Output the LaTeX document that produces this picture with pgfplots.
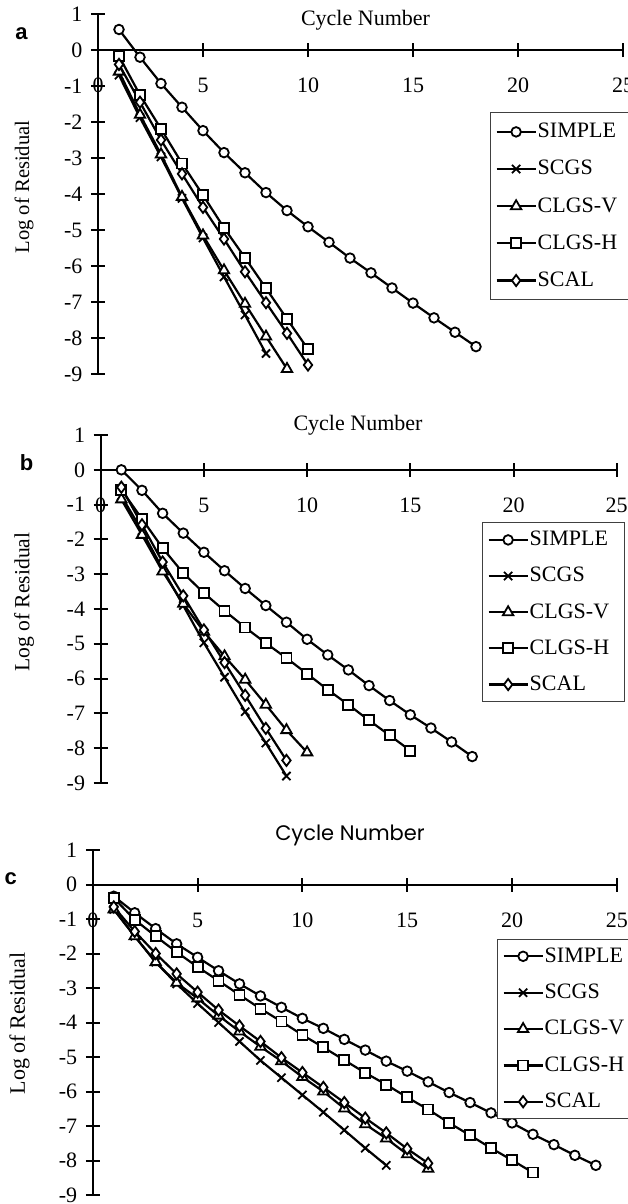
\documentclass[border=0pt]{standalone}
\usepackage{fontspec}
\setmainfont{Liberation Serif}
\newfontfamily\lsans{Liberation Sans}
\newfontfamily\gothic{Poppins}
\usepackage{pgfplots}
\pgfplotsset{compat=1.18}
\pgfplotsset{
  panel/.style={
    anchor=south west, scale only axis,
    xmin=0, xmax=25, ymin=-9, ymax=1,
    axis x line=middle, axis y line=left,
    axis line style={-, line width=1pt},
    every tick/.style={black, line width=1pt},
    tick align=center, major tick length=7pt,
    hide obscured x ticks=false, hide obscured y ticks=false,
    xtick={0,5,10,15,20,25}, xticklabels={0,5,10,15,20,25},
    ytick={-9,-8,-7,-6,-5,-4,-3,-2,-1,0,1},
    yticklabels={-9,-8,-7,-6,-5,-4,-3,-2,-1,0,1},
    tick label style={font=\fontsize{11}{13}\selectfont},
    xticklabel style={anchor=base, yshift=-17.8pt},
    yticklabel style={anchor=east, xshift=-0.8pt},
    clip=false,
    legend cell align=left,
    legend image code/.code={\draw[mark repeat=2,mark phase=2,##1] plot coordinates {(0pt,0pt)(9.75pt,0pt)(19.5pt,0pt)};},
    every axis plot/.append style={black, line width=1.1pt, mark options={solid, fill=white, line width=0.9pt}},
  },
  s1/.style={mark=*, mark size=2.4pt},
  s2/.style={mark=x, mark size=2.9pt},
  s3/.style={mark=triangle*, mark size=3pt},
  s4/.style={mark=square*, mark size=2.5pt},
  s5/.style={mark=diamond*, mark size=2.8pt},
  leg/.style={legend style={draw=black!75, line width=0.5pt, fill=white,
     font=\fontsize{11}{13}\selectfont, inner xsep=2.5pt, #1,
     nodes={inner sep=0.5pt, anchor=west}}},
}
\newcommand{\legs}{\legend{SIMPLE\hspace*{4.5pt},SCGS\hspace*{4.5pt},CLGS-V\hspace*{4.5pt},CLGS-H\hspace*{4.5pt},SCAL\hspace*{4.5pt}}}
\begin{document}
\begin{tikzpicture}
\path[use as bounding box] (0pt,0pt) rectangle (313.5pt,-602pt);
% ---------- panel a ----------
\begin{axis}[panel, at={(49pt,-187pt)}, width=262.5pt, height=180pt,
  leg={at={(axis description cs:0.7467,0.7278)}, anchor=north west, inner ysep=4.8pt, row sep=8.8pt}]
\addplot[s1] coordinates {(1,0.57)(2,-0.2)(3,-0.93)(4,-1.59)(5,-2.24)(6,-2.85)(7,-3.41)(8,-3.96)(9,-4.46)(10,-4.91)(11,-5.34)(12,-5.78)(13,-6.19)(14,-6.61)(15,-7.03)(16,-7.44)(17,-7.84)(18,-8.24)};
\addplot[s2] coordinates {(1,-0.7)(2,-1.88)(3,-2.97)(4,-4.12)(5,-5.22)(6,-6.3)(7,-7.36)(8,-8.43)};
\addplot[s3] coordinates {(1,-0.6)(2,-1.8)(3,-2.9)(4,-4.08)(5,-5.15)(6,-6.12)(7,-7.05)(8,-7.96)(9,-8.86)};
\addplot[s4] coordinates {(1,-0.17)(2,-1.25)(3,-2.19)(4,-3.15)(5,-4.03)(6,-4.94)(7,-5.77)(8,-6.62)(9,-7.47)(10,-8.31)};
\addplot[s5] coordinates {(1,-0.4)(2,-1.45)(3,-2.5)(4,-3.44)(5,-4.37)(6,-5.25)(7,-6.16)(8,-7.02)(9,-7.87)(10,-8.75)};
\legs
\end{axis}
% ---------- panel b ----------
\begin{axis}[panel, at={(50.35pt,-391.5pt)}, width=258pt, height=174pt,
  leg={at={(axis description cs:0.739,0.75)}, anchor=north west, inner ysep=3.8pt, row sep=8.3pt}]
\addplot[s1] coordinates {(1,0)(2,-0.59)(3,-1.25)(4,-1.82)(5,-2.37)(6,-2.9)(7,-3.41)(8,-3.9)(9,-4.38)(10,-4.87)(11,-5.32)(12,-5.75)(13,-6.2)(14,-6.63)(15,-7.04)(16,-7.42)(17,-7.82)(18,-8.24)};
\addplot[s2] coordinates {(1,-0.75)(2,-1.75)(3,-2.85)(4,-3.9)(5,-4.97)(6,-5.96)(7,-6.95)(8,-7.85)(9,-8.8)};
\addplot[s3] coordinates {(1,-0.85)(2,-1.87)(3,-2.92)(4,-3.85)(5,-4.65)(6,-5.36)(7,-6.03)(8,-6.75)(9,-7.48)(10,-8.12)};
\addplot[s4] coordinates {(1,-0.57)(2,-1.41)(3,-2.25)(4,-2.97)(5,-3.54)(6,-4.05)(7,-4.53)(8,-4.98)(9,-5.41)(10,-5.86)(11,-6.32)(12,-6.75)(13,-7.2)(14,-7.63)(15,-8.07)};
\addplot[s5] coordinates {(1,-0.5)(2,-1.58)(3,-2.65)(4,-3.62)(5,-4.6)(6,-5.54)(7,-6.48)(8,-7.43)(9,-8.35)};
\legs
\end{axis}
% ---------- panel c ----------
\begin{axis}[panel, at={(46.4pt,-597.5pt)}, width=262pt, height=172.5pt,
  leg={at={(axis description cs:0.7714,0.742)}, anchor=north west, inner ysep=3.5pt, row sep=8.4pt}]
\addplot[s1] coordinates {(1,-0.34)(2,-0.82)(3,-1.28)(4,-1.72)(5,-2.11)(6,-2.5)(7,-2.88)(8,-3.23)(9,-3.56)(10,-3.88)(11,-4.17)(12,-4.49)(13,-4.8)(14,-5.12)(15,-5.41)(16,-5.72)(17,-6.03)(18,-6.32)(19,-6.62)(20,-6.91)(21,-7.24)(22,-7.54)(23,-7.85)(24,-8.14)};
\addplot[s2] coordinates {(1,-0.72)(2,-1.5)(3,-2.25)(4,-2.88)(5,-3.45)(6,-4.0)(7,-4.55)(8,-5.1)(9,-5.6)(10,-6.1)(11,-6.6)(12,-7.12)(13,-7.64)(14,-8.14)};
\addplot[s3] coordinates {(1,-0.72)(2,-1.5)(3,-2.25)(4,-2.85)(5,-3.3)(6,-3.8)(7,-4.26)(8,-4.7)(9,-5.12)(10,-5.58)(11,-6.0)(12,-6.49)(13,-6.95)(14,-7.36)(15,-7.82)(16,-8.24)};
\addplot[s4] coordinates {(1,-0.39)(2,-1.02)(3,-1.5)(4,-1.96)(5,-2.39)(6,-2.79)(7,-3.2)(8,-3.6)(9,-3.97)(10,-4.36)(11,-4.72)(12,-5.09)(13,-5.46)(14,-5.8)(15,-6.17)(16,-6.52)(17,-6.91)(18,-7.27)(19,-7.64)(20,-7.99)(21,-8.35)};
\addplot[s5] coordinates {(1,-0.65)(2,-1.36)(3,-2.0)(4,-2.59)(5,-3.12)(6,-3.64)(7,-4.1)(8,-4.55)(9,-5.02)(10,-5.45)(11,-5.88)(12,-6.32)(13,-6.77)(14,-7.2)(15,-7.66)(16,-8.08)};
\legs
\end{axis}
% ---------- texts ----------
\node[font=\fontsize{11}{13}\selectfont] at (182.75pt,-10pt) {Cycle Number};
\node[font=\fontsize{11}{13}\selectfont] at (179pt,-212.5pt) {Cycle Number};
\node[font=\gothic\fontsize{10.5}{12}\selectfont] at (175pt,-417.5pt) {Cycle Number};
\node[rotate=90, font=\fontsize{10.3}{12}\selectfont] at (12pt,-93.5pt) {Log of Residual};
\node[rotate=90, font=\fontsize{10.8}{12}\selectfont] at (12pt,-301pt) {Log of Residual};
\node[rotate=90, font=\fontsize{11}{12}\selectfont] at (9.75pt,-511.75pt) {Log of Residual};
\node[font=\lsans\bfseries\fontsize{11}{13}\selectfont] at (10.75pt,-17pt) {a};
\node[font=\lsans\bfseries\fontsize{11}{13}\selectfont] at (13.3pt,-231.5pt) {b};
\node[font=\lsans\bfseries\fontsize{11}{13}\selectfont] at (5.4pt,-439.5pt) {c};
\end{tikzpicture}
\end{document}
